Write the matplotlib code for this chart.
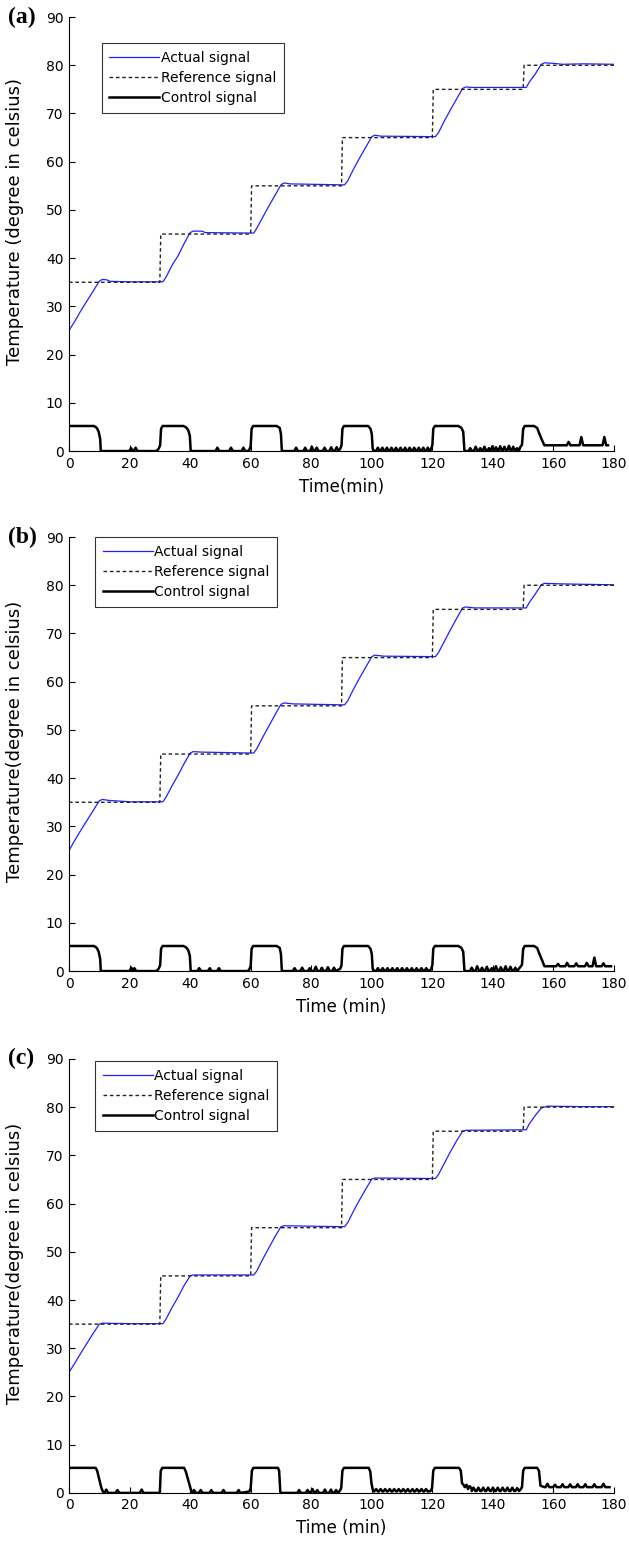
import matplotlib
matplotlib.use('Agg')
import matplotlib.pyplot as plt
import numpy as np

# reference set point, same in all three runs
ref_t = [0, 30, 30.3, 60, 60.3, 90, 90.3, 120, 120.3, 150, 150.3, 180]
ref_v = [35, 35, 45, 45, 55, 55, 65, 65, 75, 75, 80, 80]

# measured temperature (t, value)
act_a = [(0, 25), (2, 27), (4, 29.2), (6, 31.2), (8, 33.2), (10, 35.2), (11, 35.6), (12.5, 35.5),
         (13.5, 35.2), (20, 35.1), (31, 35.1), (32, 36), (34, 38.5), (36, 40.5), (38, 43), (40, 45.3),
         (41, 45.6), (44, 45.6), (45, 45.3), (61, 45.2), (62, 46.2), (64, 48.5), (66, 50.8), (68, 53),
         (70, 55.2), (71, 55.6), (73, 55.4), (91, 55.2), (92, 56), (94, 58.5), (96, 60.8), (98, 63),
         (100, 65.2), (101, 65.5), (103, 65.3), (121, 65.2), (122, 66), (124, 68.5), (126, 70.8),
         (128, 73), (130, 75.2), (131, 75.5), (133, 75.4), (151, 75.4), (152, 76.5), (154, 78.2),
         (156, 80.2), (157, 80.5), (160, 80.4), (163, 80.2), (170, 80.3), (180, 80.2)]
act_b = [(0, 25), (2, 27.2), (4, 29.3), (6, 31.3), (8, 33.3), (10, 35.3), (11, 35.6), (13, 35.4),
         (20, 35.1), (31, 35.1), (32, 36), (34, 38.4), (36, 40.6), (38, 43), (40, 45.2), (41, 45.5),
         (44, 45.4), (61, 45.2), (62, 46.1), (64, 48.5), (66, 50.8), (68, 53.1), (70, 55.3), (71, 55.6),
         (74, 55.4), (91, 55.2), (92, 56), (94, 58.5), (96, 60.8), (98, 63), (100, 65.2), (101, 65.5),
         (104, 65.3), (121, 65.2), (122, 66), (124, 68.4), (126, 70.8), (128, 73.1), (130, 75.3),
         (131, 75.5), (134, 75.3), (151, 75.3), (152, 76.4), (154, 78.2), (156, 80.1), (157, 80.4),
         (162, 80.3), (170, 80.2), (180, 80.1)]
act_c = [(0, 25), (2, 27), (4, 29.1), (6, 31.1), (8, 33.1), (10, 35), (11, 35.2), (20, 35.1),
         (31, 35.1), (32, 36), (34, 38.4), (36, 40.6), (38, 43), (40, 45), (41, 45.2), (61, 45.2),
         (62, 46), (64, 48.5), (66, 50.8), (68, 53.1), (70, 55.2), (71, 55.4), (91, 55.2), (92, 56),
         (94, 58.5), (96, 60.8), (98, 63), (100, 65.1), (101, 65.3), (121, 65.2), (122, 66),
         (124, 68.4), (126, 70.8), (128, 73), (130, 75), (131, 75.2), (151, 75.3), (152, 76.5),
         (154, 78.3), (156, 79.8), (158, 80.2), (170, 80.1), (180, 80.1)]

# control effort: plateaus/edges (t, value) and small pulses (t, base, peak)
ctrl_a_edges = [(0, 5.2), (8.3, 5.2), (9.2, 4.8), (9.8, 4.0), (10.3, 2.5), (10.5, 0), (29, 0),
                (29.7, 0.6), (30.1, 1.2), (30.4, 4.6), (30.9, 5.2), (37.8, 5.2), (38.7, 4.9),
                (39.4, 4.3), (39.9, 3.2), (40.2, 0), (59, 0), (59.5, 0.2), (60, 1.0), (60.3, 4.6),
                (60.8, 5.2), (68.6, 5.2), (69.6, 4.8), (70, 3.5), (70.3, 0), (89.6, 0.5), (90, 1.2),
                (90.3, 4.6), (90.8, 5.2), (98.8, 5.2), (99.6, 4.6), (100, 3.5), (100.3, 0.5),
                (100.8, 0), (119.5, 0.3), (120, 1.2), (120.3, 4.6), (120.8, 5.2), (128.6, 5.2),
                (129.6, 4.8), (130.2, 4.0), (130.6, 0), (149, 0.8), (149.6, 1.3), (150, 4.6),
                (150.5, 5.2), (153.6, 5.2), (154.6, 4.8), (155.4, 3.5), (156.4, 2.0), (157, 1.2),
                (178, 1.2)]
ctrl_a_pulses = [(20.5, 0, 0.6), (22, 0, 0.7), (49, 0, 0.7), (53.5, 0, 0.7), (57.6, 0, 0.7),
                 (75, 0, 0.7), (78, 0, 0.7), (80.2, 0, 0.9), (81.8, 0, 0.7), (84.4, 0, 0.7),
                 (86.6, 0, 0.8), (88.4, 0, 0.8), (102, 0, 0.7), (103.5, 0, 0.7), (105, 0, 0.7),
                 (106.5, 0, 0.7), (108, 0, 0.7), (109.5, 0, 0.7), (111, 0, 0.7), (112.5, 0, 0.7),
                 (114, 0, 0.7), (115.5, 0, 0.7), (117, 0, 0.7), (118.5, 0, 0.7), (132.5, 0, 0.6),
                 (134.3, 0, 0.9), (135.8, 0, 0.6), (137.2, 0, 0.9), (138.7, 0, 0.6), (139.8, 0, 1.0),
                 (141, 0, 0.8), (142.4, 0, 1.0), (143.8, 0, 0.9), (145.3, 0, 1.1), (146.7, 0, 0.9),
                 (148, 0, 0.6), (165, 1.2, 1.9), (169.2, 1.2, 2.9), (176.8, 1.2, 2.9)]

ctrl_b_edges = [(0, 5.2), (8.3, 5.2), (9.2, 4.8), (9.8, 4.0), (10.3, 2.5), (10.5, 0), (29, 0),
                (29.7, 0.6), (30.1, 1.2), (30.4, 4.6), (30.9, 5.2), (37.8, 5.2), (38.7, 4.9),
                (39.4, 4.3), (39.9, 3.2), (40.2, 0), (59, 0), (59.5, 0.3), (60, 1.0), (60.3, 4.6),
                (60.8, 5.2), (68.6, 5.2), (69.6, 4.8), (70, 3.5), (70.3, 0), (89.6, 0.5), (90, 1.2),
                (90.3, 4.6), (90.8, 5.2), (98.8, 5.2), (99.6, 4.6), (100, 3.5), (100.3, 0.5),
                (100.8, 0), (119.5, 0.3), (120, 1.2), (120.3, 4.6), (120.8, 5.2), (128.6, 5.2),
                (129.6, 4.8), (130.2, 4.0), (130.6, 0), (149, 0.8), (149.6, 1.3), (150, 4.6),
                (150.5, 5.2), (153.6, 5.2), (154.6, 4.8), (155.4, 3.5), (156.4, 2.0), (157, 1.0),
                (179, 1.0)]
ctrl_b_pulses = [(20.6, 0, 0.7), (21.6, 0, 0.6), (43, 0, 0.6), (46.5, 0, 0.6), (49.5, 0, 0.6),
                 (74.5, 0, 0.6), (77, 0, 0.7), (79.5, 0, 0.6), (81.5, 0, 0.9), (83.5, 0, 0.7),
                 (85.5, 0, 0.8), (87.5, 0, 0.7), (102, 0, 0.6), (103.6, 0, 0.6), (105.2, 0, 0.6),
                 (106.8, 0, 0.6), (108.4, 0, 0.6), (110, 0, 0.6), (111.6, 0, 0.6), (113.2, 0, 0.6),
                 (114.8, 0, 0.6), (116.4, 0, 0.6), (118, 0, 0.6), (133, 0, 0.7), (134.8, 0, 1.0),
                 (136.4, 0, 0.7), (138, 0, 0.9), (139.6, 0, 0.6), (141, 0, 1.0), (142.6, 0, 0.8),
                 (144.2, 0, 1.0), (145.8, 0, 0.9), (147.4, 0, 0.7), (161.5, 1.0, 1.5), (164.5, 1.0, 1.7),
                 (167.5, 1.0, 1.6), (171, 1.0, 1.7), (173.5, 1.0, 2.8), (176.5, 1.0, 1.6)]

ctrl_c_edges = [(0, 5.2), (8.8, 5.2), (9.3, 4.6), (10, 2.8), (10.7, 1.0), (11.2, 0.3), (11.6, 0),
                (30, 0), (30.3, 4.6), (30.8, 5.2), (38, 5.2), (38.6, 4.4), (39.4, 2.6), (40.2, 0.8),
                (40.6, 0), (59.6, 0.3), (60, 1.0), (60.4, 4.6), (60.9, 5.2), (69, 5.2), (69.4, 4.6),
                (69.8, 0), (89.4, 0.4), (89.9, 1.0), (90.3, 4.6), (90.8, 5.2), (99, 5.2), (99.5, 4.4),
                (99.9, 2.0), (100.3, 0.7), (119.4, 0.4), (119.9, 1.0), (120.3, 4.6), (120.8, 5.2),
                (128.8, 5.2), (129.4, 4.6), (129.8, 2.0), (130.4, 1.6), (149, 0.6), (149.6, 1.2),
                (150, 4.6), (150.5, 5.2), (154.6, 5.2), (155.2, 4.6), (155.7, 1.5), (157, 1.2),
                (178.5, 1.2)]
ctrl_c_pulses = [(12.3, 0, 0.7), (16, 0, 0.6), (24, 0, 0.7), (41.3, 0, 0.6), (43.5, 0, 0.6),
                 (47, 0, 0.6), (51, 0, 0.6), (56, 0, 0.6), (76, 0, 0.6), (78.8, 0, 0.6),
                 (80.4, 0, 0.8), (82, 0, 0.6), (84.5, 0, 0.7), (86.5, 0, 0.7), (88.2, 0, 0.6),
                 (101.4, 0.3, 0.8), (102.9, 0.3, 0.8), (104.4, 0.3, 0.8), (105.9, 0.3, 0.8),
                 (107.4, 0.3, 0.8), (108.9, 0.3, 0.8), (110.4, 0.3, 0.8), (111.9, 0.3, 0.8),
                 (113.4, 0.3, 0.8), (114.9, 0.3, 0.8), (116.4, 0.3, 0.8), (117.9, 0.3, 0.8),
                 (131.3, 1.2, 1.7), (132.4, 0.8, 1.4), (133.6, 0.4, 1.1), (135.2, 0.4, 1.1),
                 (136.8, 0.4, 1.1), (138.4, 0.4, 1.1), (140, 0.4, 1.1), (141.6, 0.4, 1.1),
                 (143.2, 0.4, 1.1), (144.8, 0.4, 1.1), (146.4, 0.4, 1.1), (148, 0.4, 1.0),
                 (158, 1.2, 1.9), (160.5, 1.2, 1.7), (163, 1.2, 1.8), (165.5, 1.2, 1.8),
                 (168, 1.2, 1.8), (170.5, 1.2, 1.8), (173.5, 1.2, 1.8), (176.5, 1.2, 1.9)]

panels = [
    dict(tag='(a)', act=act_a, edges=ctrl_a_edges, pulses=ctrl_a_pulses,
         xlabel='Time(min)', ylabel='Temperature (degree in celsius)', leg=(0.06, 0.94)),
    dict(tag='(b)', act=act_b, edges=ctrl_b_edges, pulses=ctrl_b_pulses,
         xlabel='Time (min)', ylabel='Temperature(degree in celsius)', leg=(0.048, 1.0)),
    dict(tag='(c)', act=act_c, edges=ctrl_c_edges, pulses=ctrl_c_pulses,
         xlabel='Time (min)', ylabel='Temperature(degree in celsius)', leg=(0.048, 0.995)),
]
bottoms = [0.7088, 0.3731, 0.0362]


def control_line(edges, pulses, w=0.6):
    pts = list(edges)
    for t, base, peak in pulses:
        pts += [(t - w, base), (t, peak), (t + w, base)]
    pts.sort(key=lambda p: p[0])
    return [p[0] for p in pts], [p[1] for p in pts]


plt.rcParams['font.family'] = ['DejaVu Sans']
fig = plt.figure(figsize=(6.29, 15.49), dpi=100)

for p, b in zip(panels, bottoms):
    ax = fig.add_axes([0.1097, b, 0.8665, 0.2802])
    at = [q[0] for q in p['act']]
    av = [q[1] for q in p['act']]
    ct, cv = control_line(p['edges'], p['pulses'])
    ax.plot(at, av, color='#2020ff', lw=0.9, label='Actual signal')
    ax.plot(ref_t, ref_v, color='#222222', lw=1.0, ls=(0, (2.6, 2.0)), label='Reference signal')
    ax.plot(ct, cv, color='black', lw=1.8, label='Control signal')
    ax.set_xlim(0, 180)
    ax.set_ylim(0, 90)
    ax.set_xticks(np.arange(0, 181, 20))
    ax.set_yticks(np.arange(0, 91, 10))
    ax.spines['top'].set_visible(False)
    ax.spines['right'].set_visible(False)
    ax.tick_params(direction='in', length=4, labelsize=10, pad=4)
    ax.set_xlabel(p['xlabel'], fontsize=12, labelpad=5)
    ax.set_ylabel(p['ylabel'], fontsize=13)
    ax.yaxis.set_label_coords(-0.082, 0.53)
    leg = ax.legend(loc='upper left', bbox_to_anchor=p['leg'], fontsize=10, frameon=True,
                    fancybox=False, borderaxespad=0, handlelength=3.6, handletextpad=0.1,
                    labelspacing=0.45, borderpad=0.55)
    leg.get_frame().set_edgecolor('black')
    leg.get_frame().set_linewidth(0.8)
    fig.text(0.012, b + 0.2802, p['tag'], fontsize=17, fontweight='bold',
             family='Liberation Serif', va='center', ha='left')

fig.savefig('out.png', dpi=100)
